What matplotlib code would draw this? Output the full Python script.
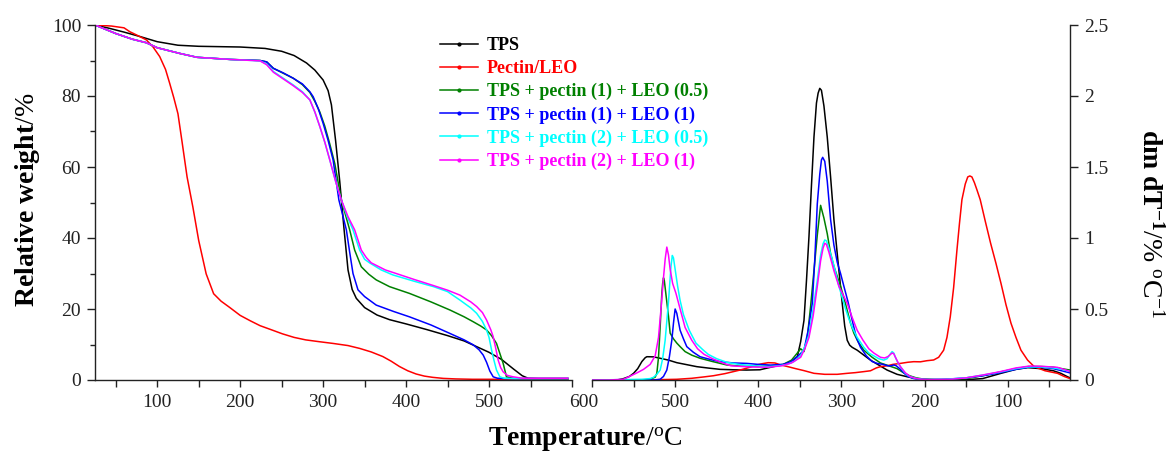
import matplotlib
matplotlib.use('Agg')
import matplotlib.pyplot as plt
import matplotlib.transforms as mtransforms
from matplotlib.lines import Line2D

plt.rcParams['font.family'] = ['Liberation Serif', 'DejaVu Serif']
plt.rcParams['mathtext.fontset'] = 'custom'
plt.rcParams['mathtext.rm'] = 'Liberation Serif'
plt.rcParams['mathtext.bf'] = 'Liberation Serif:bold'
plt.rcParams['mathtext.it'] = 'Liberation Serif:italic'

# series names / colours
names = ['TPS', 'Pectin/LEO', 'TPS + pectin (1) + LEO (0.5)', 'TPS + pectin (1) + LEO (1)',
         'TPS + pectin (2) + LEO (0.5)', 'TPS + pectin (2) + LEO (1)']
colors = ['black', '#ff0000', '#008000', '#0000ff', '#00ffff', '#ff00ff']

# ---- TGA (relative weight, %) ----
tps_x = [25, 40, 60, 80, 100, 125, 150, 200, 230, 250, 265, 280, 290, 300, 306, 310, 315, 320, 325,
         330, 335, 340, 350, 365, 380, 400, 425, 450, 470, 485, 500, 515, 530, 540, 547, 560, 595]
tps_y = [100, 99.2, 98, 96.7, 95.3, 94.3, 94.0, 93.8, 93.4, 92.6, 91.4, 89.3, 87.3, 84.5, 81.5, 77.5,
         67.5, 56, 43, 31, 25.5, 23, 20.4, 18.3, 17, 15.8, 14.2, 12.5, 11, 9.4, 7.8, 5.8, 3, 1.2, 0.5, 0.4, 0.4]

pec_x = [25, 45, 60, 67, 75, 87, 95, 103, 110, 115, 120, 125, 130, 136, 143, 150, 159, 168, 177, 187,
         200, 212, 224, 237, 251, 265, 279, 295, 312, 330, 344, 358, 372, 382, 392, 402, 412, 422, 432,
         445, 460, 480, 520, 595]
pec_y = [100, 99.7, 99.2, 98.1, 97.2, 95.8, 93.8, 91.1, 87.5, 83.6, 79.5, 75, 67, 57.2, 48.7, 39.3,
         29.9, 24.3, 22.2, 20.5, 18.2, 16.7, 15.3, 14.2, 13, 12, 11.3, 10.8, 10.3, 9.7, 8.9, 7.9, 6.6,
         5.3, 3.8, 2.6, 1.7, 1.1, 0.75, 0.45, 0.3, 0.2, 0.2, 0.2]

g_x = [25, 50, 70, 87, 100, 127, 148, 188, 224, 232, 240, 252, 264, 275, 284, 290, 296, 302, 308, 314,
       322, 327, 332, 338, 346, 355, 364, 380, 404, 430, 453, 470, 481, 490, 497, 503, 509, 513, 517,
       521, 530, 595]
g_y = [100, 97.6, 96, 95.0, 93.6, 92.0, 90.9, 90.3, 90.0, 89.6, 87.8, 86.4, 85.0, 83.2, 81.0, 78.5,
       75.5, 71.5, 66.5, 61, 50.7, 46.5, 42.3, 36.6, 31.9, 29.8, 28.2, 26.3, 24.4, 22, 19.7, 17.8, 16.4,
       15.2, 14.1, 12.5, 10.3, 7.5, 4.7, 0.9, 0.4, 0.4]

b_x = [25, 50, 70, 87, 100, 127, 148, 188, 224, 232, 240, 252, 264, 275, 284, 288, 294, 300, 306, 312,
       319, 323, 328, 332, 336, 342, 350, 364, 385, 404, 430, 453, 470, 481, 488, 493, 497, 501, 505,
       510, 520, 595]
b_y = [100, 97.6, 96, 95.0, 93.6, 92.0, 90.9, 90.3, 90.0, 89.6, 87.8, 86.5, 85.0, 83.4, 81.2, 79.8,
       76.5, 72.3, 67.5, 62, 50.7, 47, 42.3, 36, 30, 25.4, 23.5, 21.1, 19.3, 17.8, 15.5, 13.1, 11.3, 9.9,
       8.5, 7, 5, 2.5, 0.9, 0.5, 0.4, 0.4]

c_x = [25, 50, 70, 87, 100, 127, 148, 188, 224, 232, 240, 252, 264, 275, 284, 290, 296, 302, 308, 315,
       322, 329, 336, 344, 350, 356, 370, 384, 410, 433, 450, 465, 478, 485, 492, 497, 500, 503, 506,
       509, 513, 518, 530, 595]
c_y = [100, 97.6, 96, 95.0, 93.6, 92.0, 90.9, 90.3, 89.9, 89.0, 86.9, 85.0, 83.1, 81.2, 78.9, 75.5,
       71.4, 67, 62, 56, 50.7, 46, 42.3, 36.6, 34, 33, 31, 29.6, 27.8, 26.3, 24.9, 22.5, 20.3, 18.8,
       16.5, 14.1, 12, 8.5, 5.5, 2.8, 0.9, 0.5, 0.4, 0.4]

m_x = [25, 50, 70, 87, 100, 127, 148, 188, 224, 232, 240, 252, 264, 275, 284, 290, 296, 302, 308, 315,
       322, 330, 338, 346, 352, 358, 375, 388, 410, 433, 450, 465, 478, 485, 492, 497, 502, 505, 508,
       511, 514, 517, 522, 529, 540, 595]
m_y = [100, 97.6, 96, 95.0, 93.6, 92.0, 90.9, 90.3, 89.9, 88.8, 86.7, 84.8, 82.9, 81.0, 78.9, 75.5,
       71.4, 67, 62, 56, 50.7, 46, 42.3, 36.6, 34.5, 33, 31, 30, 28.3, 26.6, 25.3, 23.9, 22, 20.7, 19,
       16.9, 14.2, 12.2, 9, 5.6, 3.5, 2.3, 1.3, 0.9, 0.5, 0.5]

# ---- DTG (dm/dT, %/C) ----
dtps_x = [600, 570, 562, 555, 550, 545, 540, 536, 534, 526, 518, 508, 498, 486, 474, 460, 446, 430, 414,
          398, 382, 372, 365, 358, 353, 349, 345, 342, 339, 336, 333, 330, 328, 326, 324, 321, 317, 313,
          309, 304, 299, 296, 293, 290, 287, 281, 273, 265, 255, 245, 233, 221, 210, 195, 180, 150, 130,
          108, 90, 76, 60, 45, 36, 28, 25]
dtps_y = [0, 0, 0.01, 0.025, 0.047, 0.08, 0.13, 0.157, 0.164, 0.163, 0.153, 0.14, 0.122, 0.108, 0.094,
          0.084, 0.075, 0.072, 0.07, 0.072, 0.094, 0.105, 0.117, 0.14, 0.164, 0.27, 0.42, 0.7, 1.01,
          1.37, 1.71, 1.95, 2.02, 2.054, 2.04, 1.93, 1.71, 1.43, 1.13, 0.83, 0.54, 0.38, 0.28, 0.245,
          0.23, 0.21, 0.175, 0.14, 0.105, 0.07, 0.04, 0.023, 0.01, 0.003, 0.0, 0.002, 0.01, 0.047, 0.075,
          0.087, 0.08, 0.065, 0.047, 0.023, 0.015]

dpec_x = [600, 540, 498, 480, 465, 454, 440, 422, 410, 402, 395, 388, 380, 373, 365, 355, 345, 333, 320,
          305, 293, 283, 273, 265, 258, 253, 245, 238, 229, 220, 213, 205, 197, 189, 183, 177, 173, 169,
          165, 161, 158, 155, 151, 148, 145.5, 143, 140, 137, 133, 127, 120.5, 114, 108, 102, 96, 90, 84,
          76, 68, 55, 40, 32, 25]
dpec_y = [0, 0, 0.005, 0.012, 0.022, 0.03, 0.045, 0.07, 0.09, 0.106, 0.115, 0.122, 0.12, 0.106, 0.095,
          0.08, 0.066, 0.047, 0.04, 0.04, 0.047, 0.052, 0.059, 0.065, 0.085, 0.094, 0.1, 0.11, 0.117,
          0.125, 0.129, 0.128, 0.136, 0.141, 0.16, 0.21, 0.3, 0.446, 0.65, 0.915, 1.1, 1.27, 1.38, 1.43,
          1.437, 1.43, 1.39, 1.34, 1.27, 1.12, 0.963, 0.82, 0.68, 0.53, 0.4, 0.3, 0.21, 0.14, 0.094,
          0.065, 0.047, 0.025, 0.01]

dg_x = [600, 560, 540, 530, 524, 522, 520, 518, 516, 515, 514, 513, 511, 508, 506, 502, 498, 494, 488,
        480, 470, 455, 438, 420, 400, 385, 370, 360, 353, 349, 345, 341, 337, 333, 329, 325, 321, 317,
        313, 309, 305, 301, 297, 293, 289, 285, 280, 273, 263, 253, 243, 233, 225, 218, 210, 200, 180,
        150, 130, 110, 90, 75, 60, 45, 35, 25]
dg_y = [0, 0, 0, 0.005, 0.02, 0.047, 0.16, 0.375, 0.61, 0.68, 0.72, 0.7, 0.6, 0.45, 0.33, 0.29, 0.26,
        0.235, 0.2, 0.175, 0.153, 0.13, 0.106, 0.097, 0.095, 0.1, 0.11, 0.14, 0.19, 0.22, 0.2, 0.3, 0.52,
        0.77, 1.02, 1.23, 1.14, 1.03, 0.89, 0.8, 0.73, 0.66, 0.58, 0.49, 0.4, 0.33, 0.27, 0.21, 0.16,
        0.12, 0.1, 0.08, 0.05, 0.03, 0.015, 0.005, 0.003, 0.01, 0.03, 0.055, 0.08, 0.095, 0.095, 0.09,
        0.08, 0.07]

db_x = [600, 540, 525, 518, 514, 510, 507, 504, 502, 500, 498, 496, 494, 490, 486, 478, 470, 458, 446,
        430, 414, 400, 385, 370, 360, 352, 345, 340, 335, 332, 329, 326, 324, 322.5, 320, 317, 313, 309,
        305, 301, 297, 292, 287, 282, 277, 270, 263, 257, 250, 244, 240, 237, 234, 231, 228, 224, 220,
        213, 205, 195, 175, 150, 130, 110, 90, 75, 60, 45, 35, 25]
db_y = [0, 0, 0, 0.005, 0.025, 0.07, 0.16, 0.28, 0.4, 0.5, 0.47, 0.41, 0.35, 0.29, 0.235, 0.195, 0.164,
        0.145, 0.129, 0.12, 0.117, 0.11, 0.105, 0.11, 0.13, 0.17, 0.21, 0.35, 0.54, 0.85, 1.24, 1.45,
        1.55, 1.568, 1.54, 1.4, 1.13, 0.95, 0.83, 0.75, 0.66, 0.55, 0.42, 0.3, 0.23, 0.17, 0.13, 0.117,
        0.11, 0.1, 0.1, 0.106, 0.1, 0.085, 0.07, 0.045, 0.025, 0.01, 0.005, 0.003, 0.005, 0.015, 0.03,
        0.05, 0.075, 0.09, 0.09, 0.08, 0.065, 0.05]

dc_x = [600, 560, 540, 530, 526, 522, 518, 515, 512, 508, 505, 503.4, 502, 500, 497, 494, 490, 483, 475,
        467, 460, 450, 438, 424, 405, 388, 375, 365, 357, 349, 343, 339, 334, 329, 325, 322, 320, 318,
        315, 311, 307, 303, 299, 295, 291, 287, 281, 273, 267, 261, 255, 249, 245, 241, 239, 237, 235,
        232, 229, 225, 221, 217, 211, 205, 195, 175, 150, 130, 110, 90, 75, 60, 45, 35, 25]
dc_y = [0, 0.003, 0.005, 0.01, 0.019, 0.04, 0.07, 0.15, 0.28, 0.55, 0.8, 0.877, 0.86, 0.78, 0.66, 0.56,
        0.46, 0.35, 0.26, 0.215, 0.18, 0.15, 0.125, 0.11, 0.1, 0.094, 0.1, 0.11, 0.13, 0.17, 0.25, 0.32,
        0.5, 0.7, 0.88, 0.96, 0.986, 0.98, 0.93, 0.85, 0.76, 0.66, 0.58, 0.5, 0.43, 0.37, 0.3, 0.23,
        0.19, 0.17, 0.15, 0.14, 0.15, 0.185, 0.2, 0.19, 0.16, 0.12, 0.095, 0.06, 0.035, 0.023, 0.012,
        0.006, 0.003, 0.005, 0.015, 0.035, 0.055, 0.08, 0.092, 0.092, 0.085, 0.075, 0.06]

dm_x = [600, 580, 562, 546, 538, 530, 524, 520, 517, 514, 512, 510, 508, 506, 503, 499, 494, 488, 480,
        473, 465, 455, 445, 433, 410, 388, 372, 360, 349, 344, 339, 334, 329, 325, 322, 320, 318, 315,
        309, 303, 298, 293, 287, 281, 274, 267, 261, 253, 248, 244, 241, 239, 237, 235, 232, 229, 223,
        217, 211, 205, 195, 169, 150, 130, 108, 90, 75, 68, 55, 40, 28, 25]
dm_y = [0, 0, 0.005, 0.05, 0.075, 0.11, 0.17, 0.3, 0.5, 0.72, 0.85, 0.936, 0.88, 0.78, 0.68, 0.61, 0.5,
        0.37, 0.28, 0.22, 0.18, 0.15, 0.125, 0.1, 0.092, 0.09, 0.1, 0.12, 0.16, 0.22, 0.3, 0.45, 0.66,
        0.84, 0.93, 0.963, 0.955, 0.9, 0.77, 0.66, 0.6, 0.54, 0.44, 0.35, 0.28, 0.22, 0.19, 0.16, 0.155,
        0.165, 0.18, 0.19, 0.185, 0.16, 0.125, 0.094, 0.05, 0.023, 0.012, 0.006, 0.003, 0.005, 0.015,
        0.035, 0.06, 0.085, 0.097, 0.098, 0.095, 0.089, 0.066, 0.06]

tga = [(tps_x, tps_y), (pec_x, pec_y), (g_x, g_y), (b_x, b_y), (c_x, c_y), (m_x, m_y)]
dtg = [(dtps_x, dtps_y), (dpec_x, dpec_y), (dg_x, dg_y), (db_x, db_y), (dc_x, dc_y), (dm_x, dm_y)]

W, H = 1170, 457
fig = plt.figure(figsize=(W / 100, H / 100), dpi=100)
ax1 = fig.add_axes([95 / W, 77 / H, 477 / W, 355 / H])
ax2 = fig.add_axes([592 / W, 77 / H, 478 / W, 355 / H])

lw = 1.1
for (x, y), c in zip(tga, colors):
    ax1.plot(x, y, color=c, lw=lw)
for (x, y), c in zip(dtg, colors):
    ax2.plot(x, y, color=c, lw=lw)

# left axes
ax1.set_xlim(25, 600)
ax1.set_ylim(0, 100)
ax1.spines['top'].set_visible(False)
ax1.spines['right'].set_visible(False)
ax1.set_xticks([100, 200, 300, 400, 500, 600])
ax1.set_xticks([50, 150, 250, 350, 450, 550], minor=True)
ax1.set_yticks([0, 20, 40, 60, 80, 100])
ax1.set_yticks([10, 30, 50, 70, 90], minor=True)

# right axes
ax2.set_xlim(600, 25)
ax2.set_ylim(0, 2.5)
ax2.spines['top'].set_visible(False)
ax2.spines['left'].set_visible(False)
ax2.yaxis.tick_right()
ax2.set_xticks([100, 200, 300, 400, 500, 600])
ax2.set_xticklabels(['100', '200', '300', '400', '500', ''])
ax2.set_xticks([50, 150, 250, 350, 450, 550], minor=True)
ax2.set_yticks([0, 0.5, 1, 1.5, 2, 2.5])
ax2.set_yticklabels(['0', '0.5', '1', '1.5', '2', '2.5'])

for ax in (ax1, ax2):
    for s in ax.spines.values():
        s.set_linewidth(1.0)
        s.set_color('#222222')
    ax.tick_params(which='both', direction='out', width=1.0, labelsize=14, colors='#222222')
    ax.tick_params(axis='x', which='both', length=5, pad=5)
    ax.tick_params(axis='y', which='major', length=6, pad=4)
    ax.tick_params(axis='y', which='minor', length=3.5)

# shift the shared "600" label into the gap between panels
lab600 = ax1.get_xticklabels()[-1]
lab600.set_transform(lab600.get_transform() + mtransforms.ScaledTranslation(12 / 100, 0, fig.dpi_scale_trans))

# axis titles
fig.text(28 / W, 1 - 200 / H, r'$\mathbf{Relative\ weight}$/%', rotation=90,
         ha='center', va='center', fontsize=20)
fig.text(585 / W, 1 - 440 / H, r'$\mathbf{Temperature}$/$^{\rm o}$C',
         ha='center', va='center', fontsize=20)
fig.text(1150 / W, 1 - 224 / H, r'$\mathbf{dm\ dT}^{\mathbf{-1}}$/% $^{\rm o}$C$^{-1}$', rotation=270,
         ha='center', va='center', fontsize=20)

# legend
handles = [Line2D([0], [0], color=c, lw=lw, marker='o', markersize=2) for c in colors]
leg = fig.legend(handles, names, loc='upper left', bbox_to_anchor=(440 / W, 1 - 37 / H),
                 frameon=False, handlelength=2.1, handletextpad=0.5,
                 labelspacing=0.33, borderpad=0, borderaxespad=0, labelcolor='linecolor',
                 prop={'weight': 'bold', 'size': 13})

fig.savefig('out.png', dpi=100)
